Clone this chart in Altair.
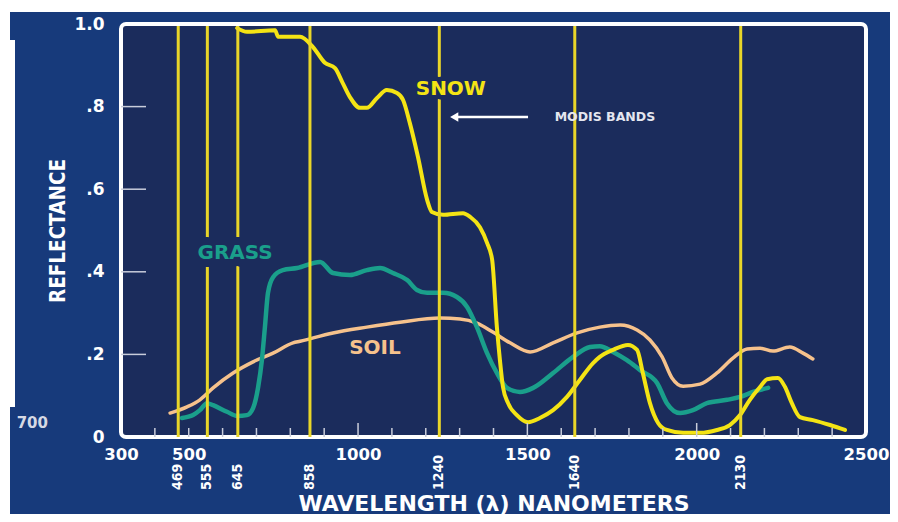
import altair as alt
import pandas as pd

# ---------------- data ----------------
snow_nm = [643, 672, 755, 764, 829, 867, 902, 932, 953, 976, 1006, 1026, 1056, 1085, 1115,
           1133, 1153, 1177, 1204, 1218, 1251, 1310, 1331, 1360, 1381, 1396, 1410, 1419, 1428,
           1443, 1469, 1502, 1537, 1576, 1617, 1655, 1694, 1714, 1753, 1797, 1824, 1841, 1862,
           1886, 1912, 1960, 2010, 2060, 2098, 2128, 2157, 2187, 2208, 2240, 2261, 2281, 2305,
           2343, 2394, 2438]
snow_r = [0.990, 0.981, 0.985, 0.969, 0.969, 0.944, 0.906, 0.893, 0.860, 0.823, 0.797, 0.797,
          0.821, 0.840, 0.833, 0.816, 0.760, 0.678, 0.574, 0.545, 0.538, 0.542, 0.533, 0.508,
          0.470, 0.429, 0.266, 0.186, 0.121, 0.082, 0.053, 0.036, 0.046, 0.065, 0.097, 0.138,
          0.179, 0.194, 0.211, 0.223, 0.211, 0.155, 0.082, 0.034, 0.017, 0.010, 0.010, 0.017,
          0.029, 0.053, 0.090, 0.121, 0.140, 0.143, 0.121, 0.082, 0.048, 0.041, 0.029, 0.017]

grass_nm = [480, 513, 533, 554, 572, 613, 643, 672, 690, 705, 716, 725, 734, 749, 778, 820,
            888, 926, 976, 1026, 1065, 1103, 1145, 1174, 1204, 1251, 1292, 1322, 1351, 1381,
            1410, 1440, 1478, 1517, 1576, 1635, 1685, 1714, 1753, 1794, 1833, 1883, 1912, 1951,
            1989, 2030, 2090, 2128, 2166, 2211]
grass_r = [0.046, 0.053, 0.065, 0.082, 0.077, 0.061, 0.051, 0.053, 0.070, 0.121, 0.186, 0.266,
           0.349, 0.387, 0.404, 0.409, 0.424, 0.397, 0.392, 0.404, 0.409, 0.397, 0.380, 0.356,
           0.349, 0.349, 0.339, 0.315, 0.266, 0.203, 0.155, 0.119, 0.109, 0.119, 0.155, 0.194,
           0.218, 0.220, 0.206, 0.186, 0.162, 0.131, 0.082, 0.058, 0.065, 0.082, 0.090, 0.097,
           0.109, 0.119]

soil_nm = [445, 495, 533, 572, 631, 690, 749, 808, 829, 926, 1026, 1124, 1242, 1301, 1351,
           1398, 1449, 1508, 1576, 1647, 1714, 1774, 1824, 1862, 1898, 1927, 1960, 2010, 2060,
           2107, 2149, 2187, 2225, 2275, 2314, 2343]
soil_r = [0.058, 0.073, 0.090, 0.119, 0.155, 0.182, 0.203, 0.228, 0.232, 0.252, 0.266, 0.278,
          0.288, 0.286, 0.276, 0.254, 0.228, 0.206, 0.228, 0.252, 0.266, 0.271, 0.259, 0.235,
          0.194, 0.143, 0.123, 0.128, 0.155, 0.191, 0.213, 0.215, 0.208, 0.218, 0.203, 0.189]

modis_bands = [469, 555, 645, 858, 1240, 1640, 2130]
modis_labels = ["469", "555", "645", "858", "1240", "1640", "2130"]

x_label_values = [300, 500, 1000, 1500, 2000, 2500]
y_label_values = [0, 0.2, 0.4, 0.6, 0.8, 1.0]
y_tick_values = [0.2, 0.4, 0.6, 0.8]
x_minor_ticks = [400, 500, 600, 700, 800, 900, 1100, 1200, 1300, 1400, 1600, 1700, 1800,
                 1900, 2100, 2200, 2300, 2400]
x_major_ticks = [1000, 1500, 2000]

curve_labels = ["SNOW", "GRASS", "SOIL"]
curve_label_nm = [1274, 637, 1050]
curve_label_r = [0.843, 0.446, 0.215]

note_text = ["MODIS BANDS"]
note_nm = [1729]
note_r = [0.775]
arrow_from = [1502]
arrow_to = [1292]
arrow_tip = [1284]

# ---------------- styles ----------------
OUTER = "#173a7b"
INNER = "#1b2c5c"
SNOW = "#f4e414"
GRASS = "#1a9f8b"
SOIL = "#f6c28c"
BAND = "#e9d629"
WHITE = "#ffffff"
BOLD = "DejaVu Sans"
NARROW = "Liberation Sans Narrow, Arial Narrow, DejaVu Sans Condensed, sans-serif"

W, H = 745, 413

xs = alt.Scale(domain=[300, 2500], nice=False, zero=False)
ys = alt.Scale(domain=[0, 1.0], nice=False, zero=False)


def curve(nm, r, color, width):
    df = pd.DataFrame({"nm": nm, "r": r})
    return alt.Chart(df).mark_line(color=color, strokeWidth=width, interpolate="monotone",
                                   strokeCap="round", strokeJoin="round").encode(
        x=alt.X("nm:Q", scale=xs,
                axis=alt.Axis(values=x_label_values, format="d", ticks=False, domain=False,
                              grid=False, labelFont=BOLD, labelFontWeight="bold",
                              labelFontSize=16.5, labelColor=WHITE, labelPadding=17,
                              labelBaseline="middle", labelFlush=False,
                              title="WAVELENGTH (λ) NANOMETERS", titleFont=BOLD,
                              titleFontSize=22, titleFontWeight="bold", titleColor=WHITE,
                              titleX=W / 2, titleY=73, titleBaseline="alphabetic")),
        y=alt.Y("r:Q", scale=ys,
                axis=alt.Axis(values=y_label_values, ticks=False, domain=False, grid=False,
                              labelExpr="datum.value == 1 ? '1.0' : datum.value == 0 ? '0' : replace(format(datum.value, '.1f'), '0.', '.')",
                              labelFont=BOLD, labelFontWeight="bold", labelFontSize=17,
                              labelColor=WHITE, labelPadding=17, labelBaseline="middle",
                              labelFlush=False,
                              title="REFLECTANCE", titleFont=NARROW, titleFontSize=20.5,
                              titleFontWeight="bold", titleColor=WHITE, titleX=-57,
                              titleBaseline="alphabetic")),
    )


snow_line = curve(snow_nm, snow_r, SNOW, 4)
grass_line = curve(grass_nm, grass_r, GRASS, 4.5)
soil_line = curve(soil_nm, soil_r, SOIL, 3.5)

bands_df = pd.DataFrame({"nm": modis_bands, "label": modis_labels})
bands = alt.Chart(bands_df).mark_rule(color=BAND, strokeWidth=3).encode(
    x=alt.X("nm:Q", scale=xs), y=alt.value(2), y2=alt.value(H))
band_text = alt.Chart(bands_df).mark_text(
    color=WHITE, font=NARROW, fontWeight="bold", fontSize=14, angle=270,
    align="left", baseline="middle").encode(
    x=alt.X("nm:Q", scale=xs), y=alt.value(H + 53), text="label:N")

lab_df = pd.DataFrame({"nm": curve_label_nm, "r": curve_label_r, "label": curve_labels,
                       "c": [SNOW, GRASS, SOIL], "halo": [9, 16, 8]})
halo = alt.Chart(lab_df).mark_text(font=BOLD, fontWeight="bold", fontSize=20,
                                   fill=INNER, stroke=INNER, strokeJoin="round").encode(
    x=alt.X("nm:Q", scale=xs), y=alt.Y("r:Q", scale=ys), text="label:N",
    strokeWidth=alt.StrokeWidth("halo:Q", scale=None))
lab = alt.Chart(lab_df).mark_text(font=BOLD, fontWeight="bold", fontSize=20).encode(
    x=alt.X("nm:Q", scale=xs), y=alt.Y("r:Q", scale=ys), text="label:N",
    color=alt.Color("c:N", scale=None))

note_df = pd.DataFrame({"nm": note_nm, "r": note_r, "label": note_text,
                        "x1": arrow_from, "x2": arrow_to, "tip": arrow_tip})
note = alt.Chart(note_df).mark_text(font=BOLD, fontWeight="bold", fontSize=12.5,
                                    color="#e4e6ef").encode(
    x=alt.X("nm:Q", scale=xs), y=alt.Y("r:Q", scale=ys), text="label:N")
arrow_shaft = alt.Chart(note_df).mark_rule(color=WHITE, strokeWidth=2.5).encode(
    x=alt.X("x1:Q", scale=xs), x2="x2:Q", y=alt.Y("r:Q", scale=ys))
arrow_head = alt.Chart(note_df).mark_point(shape="triangle-left", filled=True, color=WHITE,
                                           size=90, opacity=1).encode(
    x=alt.X("tip:Q", scale=xs), y=alt.Y("r:Q", scale=ys))

yt_df = pd.DataFrame({"r": y_tick_values})
y_ticks = alt.Chart(yt_df).mark_rule(color="#c9cddb", strokeWidth=1.5).encode(
    y=alt.Y("r:Q", scale=ys), x=alt.value(0), x2=alt.value(25))
xmin_df = pd.DataFrame({"nm": x_minor_ticks})
x_minor = alt.Chart(xmin_df).mark_rule(color="#c9cddb", strokeWidth=1.5).encode(
    x=alt.X("nm:Q", scale=xs), y=alt.value(H), y2=alt.value(H - 9))
xmaj_df = pd.DataFrame({"nm": x_major_ticks})
x_major = alt.Chart(xmaj_df).mark_rule(color="#c9cddb", strokeWidth=1.5).encode(
    x=alt.X("nm:Q", scale=xs), y=alt.value(H), y2=alt.value(H - 14))

# frame decoration (white page edges of the scanned figure) and stray "700"
deco_df = pd.DataFrame({"k": [0]})
notch = alt.Chart(deco_df).mark_rect(color=WHITE).encode(
    x=alt.value(-114), x2=alt.value(-106), y=alt.value(16), y2=alt.value(383))
top_strip = alt.Chart(deco_df).mark_rect(color=WHITE).encode(
    x=alt.value(-114), x2=alt.value(W + 30), y=alt.value(-17), y2=alt.value(-12))
left_strip = alt.Chart(deco_df).mark_rect(color=WHITE).encode(
    x=alt.value(-114), x2=alt.value(-111), y=alt.value(-17), y2=alt.value(H + 80))
stray = alt.Chart(pd.DataFrame({"t": ["700"]})).mark_text(
    font=BOLD, fontWeight="bold", fontSize=15, color="#d6d9e4", align="right",
    baseline="middle").encode(x=alt.value(-73), y=alt.value(399), text="t:N")

chart = alt.layer(
    notch, top_strip, left_strip, stray,
    soil_line, grass_line, snow_line,
    bands, halo, lab,
    y_ticks, x_minor, x_major,
    arrow_shaft, arrow_head, note, band_text,
).properties(
    width=W, height=H,
    autosize=alt.AutoSizeParams(type="none"),
    padding={"left": 113, "top": 16, "right": 24, "bottom": 77},
    background=OUTER,
).configure_view(
    fill=INNER, stroke=WHITE, strokeWidth=4, cornerRadius=5,
)

chart.save("out.html", embed_options={"renderer": "svg", "actions": False})
